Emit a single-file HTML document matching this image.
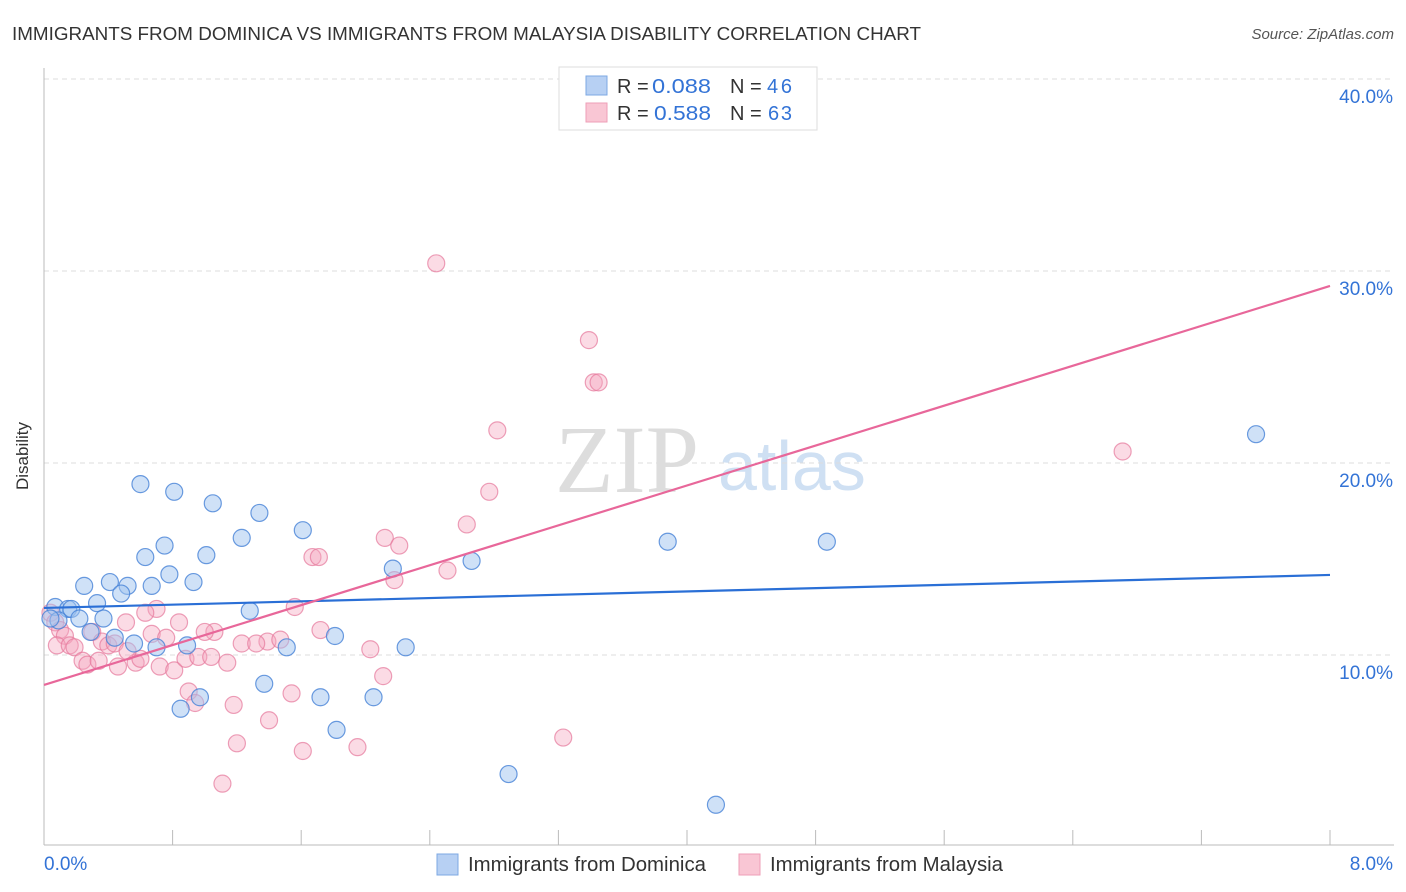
<!DOCTYPE html>
<html><head><meta charset="utf-8"><style>
body{margin:0;background:#fff;font-family:"Liberation Sans",sans-serif;}
svg{display:block}
</style></head><body>
<svg id="chart" width="1406" height="892" xmlns="http://www.w3.org/2000/svg">
<text x="12" y="40" font-size="18" fill="#333" textLength="909" lengthAdjust="spacingAndGlyphs">IMMIGRANTS FROM DOMINICA VS IMMIGRANTS FROM MALAYSIA DISABILITY CORRELATION CHART</text>
<text x="1394" y="39" font-size="15" fill="#555" text-anchor="end" font-style="italic">Source: ZipAtlas.com</text>
<text x="28" y="456" font-size="17" fill="#333" text-anchor="middle" transform="rotate(-90 28 456)">Disability</text>
<text x="555" y="492" font-size="96" fill="#ddd" font-family="Liberation Serif,serif">ZIP</text>
<text x="718" y="490" font-size="70" fill="#cfe0f3">atlas</text>
<g id="grid"></g>
<g id="axes"></g>
<g id="pts"></g>
<g id="trend"></g>
<g>
<rect x="559" y="67" width="258" height="63" fill="#fff" stroke="#ddd"/>
<rect x="586" y="76" width="21" height="19" fill="#b7d0f3" stroke="#7ea8e3"/>
<rect x="586" y="103" width="21" height="19" fill="#f9c6d4" stroke="#ee9fb7"/>
<text x="617" y="93" font-size="20" fill="#333">R = <tspan fill="#3373d6" x="652" textLength="59" lengthAdjust="spacingAndGlyphs">0.088</tspan><tspan x="730">N = </tspan><tspan fill="#3373d6" x="767" textLength="25">46</tspan></text>
<text x="617" y="120" font-size="20" fill="#333">R = <tspan fill="#3373d6" x="654" textLength="57" lengthAdjust="spacingAndGlyphs">0.588</tspan><tspan x="730">N = </tspan><tspan fill="#3373d6" x="768" textLength="24">63</tspan></text>
</g>
<g>
<rect x="437" y="854" width="21" height="21" fill="#b7d0f3" stroke="#7ea8e3"/>
<text x="468" y="871" font-size="20" fill="#333" textLength="238" lengthAdjust="spacingAndGlyphs">Immigrants from Dominica</text>
<rect x="739" y="854" width="21" height="21" fill="#f9c6d4" stroke="#ee9fb7"/>
<text x="770" y="871" font-size="20" fill="#333" textLength="233" lengthAdjust="spacingAndGlyphs">Immigrants from Malaysia</text>
</g>
</svg>
<script>
const yTicks=[10,20,30,40];
const yTickLabels=["10.0%","20.0%","30.0%","40.0%"];
const xTickLabels=["0.0%","8.0%"];
const blueX=[0.60,0.81,1.05,1.34,1.61,1.23,0.75,0.63,1.01,0.78,0.41,0.25,0.52,0.67,0.93,0.48,0.33,0.07,0.15,0.17,1.28,0.22,0.37,0.09,0.04,0.29,0.44,0.56,0.70,0.89,1.51,1.81,2.25,2.17,2.66,1.37,0.97,0.85,1.72,2.05,1.82,2.89,4.18,3.88,4.87,7.54];
const blueY=[18.9,18.5,17.9,17.4,16.5,16.1,15.7,15.1,15.2,14.2,13.8,13.6,13.6,13.6,13.8,13.2,12.7,12.5,12.4,12.4,12.3,11.9,11.9,11.8,11.9,11.2,10.9,10.6,10.4,10.5,10.4,10.99,10.4,14.5,14.9,8.5,7.8,7.2,7.8,7.8,6.1,3.8,2.2,15.9,15.9,21.5];
const pinkX=[2.44,3.39,3.42,3.45,2.82,6.71,2.77,2.63,2.12,2.21,1.67,1.71,2.51,2.18,1.56,0.70,0.63,0.84,1.72,0.51,0.67,0.76,1.06,1.00,1.39,1.47,1.23,1.32,2.03,0.04,0.07,0.10,0.13,0.08,0.16,0.19,0.30,0.36,0.40,0.44,0.24,0.27,0.34,0.46,0.57,0.60,0.52,0.72,0.81,0.88,0.96,1.04,1.14,2.11,0.90,0.94,1.18,1.54,1.40,1.20,1.61,1.95,3.23,1.11];
const pinkY=[30.4,26.4,24.2,24.2,21.7,20.6,18.5,16.8,16.1,15.7,15.1,15.1,14.4,13.9,12.5,12.4,12.2,11.7,11.3,11.7,11.1,10.9,11.2,11.2,10.7,10.8,10.6,10.6,10.3,12.2,11.7,11.3,11.0,10.5,10.5,10.4,11.2,10.7,10.5,10.6,9.7,9.5,9.7,9.4,9.6,9.8,10.2,9.4,9.2,9.8,9.9,9.9,9.6,8.9,8.1,7.5,7.4,8.0,6.6,5.4,5.0,5.2,5.7,3.3];
const blueTrend=[12.45,14.17];
const pinkTrend=[8.44,29.22];
const X0=44,X1=1330,XMAX=8;
const sx=v=>X0+v/XMAX*(X1-X0);
const sy=v=>655-(v-10)*19.2;
const NS="http://www.w3.org/2000/svg";
function mk(tag,attrs,parent){const e=document.createElementNS(NS,tag);for(const k in attrs)e.setAttribute(k,attrs[k]);parent.appendChild(e);return e;}
const grid=document.getElementById('grid'),axes=document.getElementById('axes'),pts=document.getElementById('pts'),trend=document.getElementById('trend');
yTicks.forEach((t,i)=>{
 const l=mk('line',{x1:44,x2:1394,y1:sy(t),y2:sy(t),stroke:'#ddd','stroke-dasharray':'5,4'},grid);
 
 
 const tx=mk('text',{x:1393,y:sy(t)+24,'font-size':19,fill:'#3373d6','text-anchor':'end'},grid);
 tx.textContent=yTickLabels[i];
 
 
});
const ax=mk('line',{x1:44,x2:44,y1:68,y2:845,stroke:'#bbb'},axes);


const bx=mk('line',{x1:44,x2:1394,y1:845,y2:845,stroke:'#bbb'},axes);


for(let i=1;i<=10;i++){
 const v=i*0.8;
 const t=mk('line',{x1:sx(v),x2:sx(v),y1:830,y2:845,stroke:'#bbb'},axes);
 
 
}
const xl0=mk('text',{x:44,y:870,'font-size':19,fill:'#3373d6'},axes);xl0.textContent=xTickLabels[0];


const xl1=mk('text',{x:1393,y:870,'font-size':19,fill:'#3373d6','text-anchor':'end'},axes);xl1.textContent=xTickLabels[1];


pinkX.forEach((x,i)=>{
 const c=mk('circle',{cx:sx(x),cy:sy(pinkY[i]),r:8.5,fill:'rgba(244,165,190,0.4)',stroke:'rgba(230,120,155,0.7)','stroke-width':1.2},pts);
 
 
});
blueX.forEach((x,i)=>{
 const c=mk('circle',{cx:sx(x),cy:sy(blueY[i]),r:8.5,fill:'rgba(160,195,240,0.5)',stroke:'rgba(70,130,215,0.8)','stroke-width':1.2},pts);
 
 
});
const bl=mk('line',{x1:sx(0),y1:sy(blueTrend[0]),x2:sx(8),y2:sy(blueTrend[1]),stroke:'#2a6fd6','stroke-width':2.2},trend);


const pl=mk('line',{x1:sx(0),y1:sy(pinkTrend[0]),x2:sx(8),y2:sy(pinkTrend[1]),stroke:'#e8679a','stroke-width':2.2},trend);


</script>
</body></html>
